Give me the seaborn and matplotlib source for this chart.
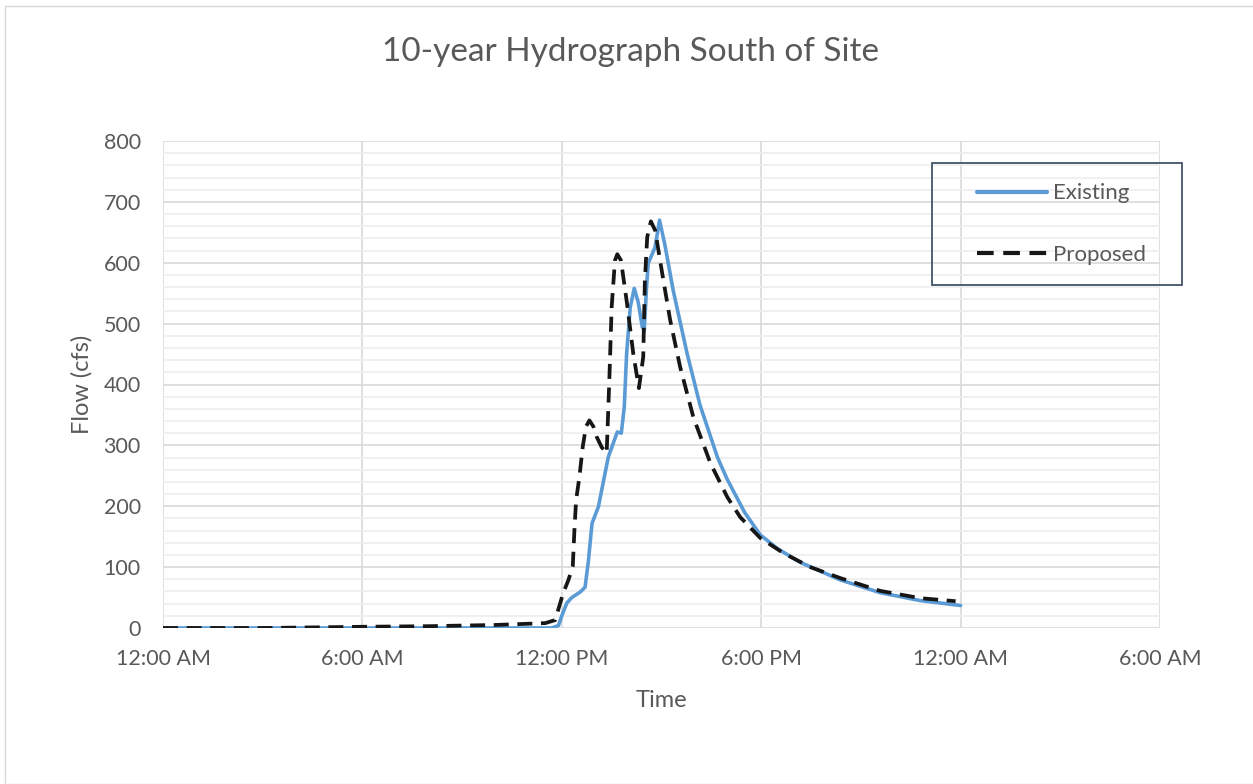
import matplotlib
matplotlib.use("Agg")
import matplotlib.pyplot as plt
from matplotlib.patches import Rectangle
from matplotlib.lines import Line2D
from matplotlib.ticker import MultipleLocator
import seaborn as sns
import pandas as pd

# hours since 12:00 AM and flow (cfs)
existing_hours = [0, 6, 11.7, 11.9, 12.0, 12.15, 12.3, 12.55, 12.7, 12.8, 12.91, 13.1,
                  13.4, 13.67, 13.79, 13.88, 13.95, 14.06, 14.18, 14.3, 14.42, 14.48,
                  14.55, 14.6, 14.81, 14.94, 15.1, 15.35, 15.77, 16.16, 16.68, 16.97,
                  17.5, 17.97, 18.5, 19.17, 20.38, 21.58, 22.79, 24.0]
existing_flow = [0, 0, 0, 4, 20, 41, 50, 59, 67, 110, 172, 199,
                 281, 322, 320, 363, 450, 527, 558, 535, 495, 489,
                 560, 599, 626, 670, 630, 555, 451, 366, 281, 245,
                 190, 153, 130, 108, 79, 58, 45, 37]

proposed_hours = [0, 3, 6, 8, 10, 11, 11.5, 11.8, 12.04, 12.2, 12.33, 12.38, 12.43,
                  12.53, 12.63, 12.73, 12.83, 12.95, 13.05, 13.2, 13.35, 13.43, 13.5,
                  13.6, 13.67, 13.78, 13.96, 14.15, 14.32, 14.45, 14.5, 14.57, 14.68,
                  14.81, 15.02, 15.26, 15.56, 15.96, 16.47, 16.98, 17.37, 17.97, 18.67,
                  19.48, 20.38, 21.58, 22.79, 23.85]
proposed_flow = [0, 0, 2, 3, 5, 7, 8, 13, 57, 79, 101, 161, 210,
                 248, 298, 331, 341, 331, 314, 297, 287, 407, 527,
                 604, 614, 604, 534, 451, 394, 445, 571, 642, 668,
                 653, 583, 506, 429, 346, 271, 215, 182, 148, 123,
                 100, 82, 61, 49, 44]

tick_hours = [0, 6, 12, 18, 24, 30]
tick_labels = ["12:00 AM", "6:00 AM", "12:00 PM", "6:00 PM", "12:00 AM", "6:00 AM"]

existing = pd.DataFrame({"hours": existing_hours, "flow": existing_flow})
proposed = pd.DataFrame({"hours": proposed_hours, "flow": proposed_flow})

sns.set_theme(style="white")
plt.rcParams["font.family"] = ["Lato", "DejaVu Sans"]
grey = "#595959"
blue = "#5B9BD5"
black = "#161616"
dash = (0, (4, 2.3))

fig = plt.figure(figsize=(12.53, 7.84), dpi=100)
ax = fig.add_axes([163 / 1253, 1 - 628 / 784, 997 / 1253, 487 / 784])

sns.lineplot(data=existing, x="hours", y="flow", ax=ax, color=blue, lw=2.6, sort=False)
sns.lineplot(data=proposed, x="hours", y="flow", ax=ax, color=black, lw=2.7, sort=False,
             linestyle=dash)

ax.set_xlim(0, 30)
ax.set_ylim(0, 800)
ax.set_xticks(tick_hours)
ax.set_xticklabels(tick_labels)
ax.yaxis.set_major_locator(MultipleLocator(100))
ax.yaxis.set_minor_locator(MultipleLocator(20))
ax.grid(which="major", color="#d9d9d9", lw=1.2)
ax.grid(which="minor", axis="y", color="#eeeeee", lw=1.2)
ax.set_axisbelow(True)
for s in ax.spines.values():
    s.set_visible(False)
ax.tick_params(which="both", length=0, colors=grey, labelsize=15.5)
ax.tick_params(axis="x", pad=15)
ax.tick_params(axis="y", pad=16)

ax.set_xlabel("Time", fontsize=17, color=grey, labelpad=15)
ax.set_ylabel("Flow (cfs)", fontsize=17, color=grey, labelpad=8)
fig.text(631 / 1253, 1 - 52 / 784, "10-year Hydrograph South of Site",
         ha="center", va="center", fontsize=24, color=grey)

# legend box
handles = [Line2D([], [], color=blue, lw=3),
           Line2D([], [], color=black, lw=3, linestyle=dash)]
ax.legend(handles, ["Existing", "Proposed"], loc="center left",
          bbox_to_anchor=((966 - 163) / 997, (628 - 224) / 487), frameon=False,
          fontsize=16, labelcolor=grey, handlelength=3.15, handletextpad=0.27,
          labelspacing=1.85, borderpad=0)
fig.patches.append(Rectangle((932 / 1253, 1 - 285 / 784), 250 / 1253, 122 / 784,
                             transform=fig.transFigure, fill=False,
                             edgecolor="#44546A", lw=1.3, zorder=5))
# outer chart border
fig.patches.append(Rectangle((5 / 1253, 0), 1, 1 - 6 / 784, transform=fig.transFigure,
                             fill=False, edgecolor="#d9d9d9", lw=1))

fig.savefig("out.png", dpi=100)
